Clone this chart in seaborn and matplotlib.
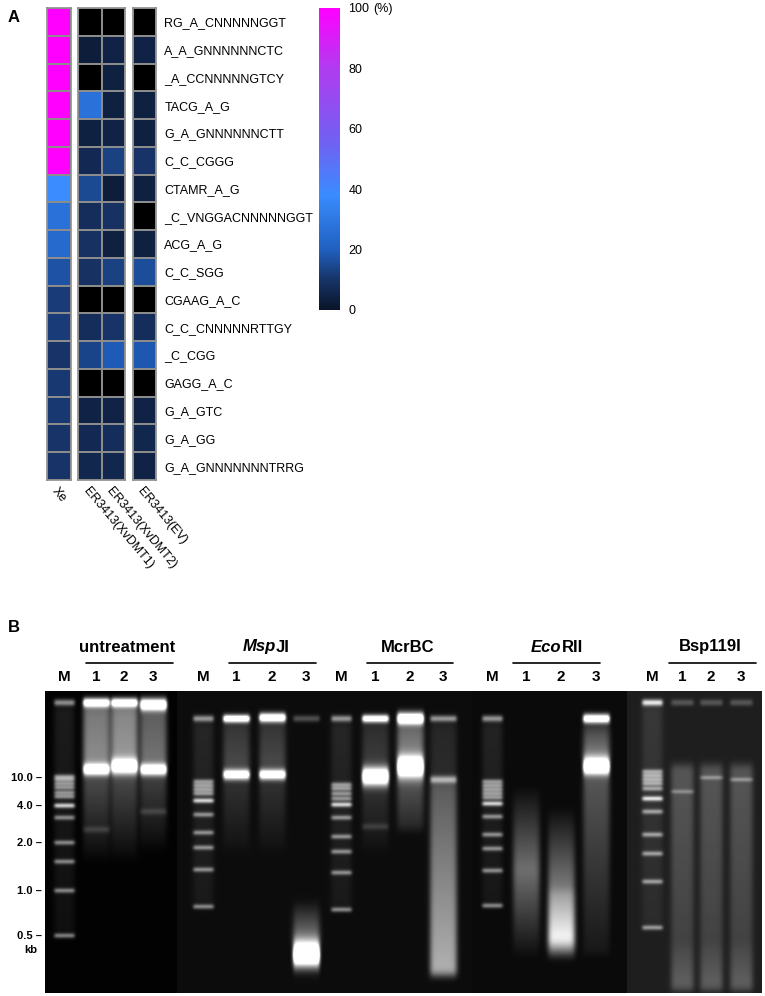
import numpy as np
import pandas as pd
import matplotlib
matplotlib.use('Agg')
import matplotlib.pyplot as plt
import seaborn as sns
from matplotlib.colors import LinearSegmentedColormap

sns.set_style('white')
plt.rcParams['font.family'] = ['Liberation Sans', 'DejaVu Sans']
plt.rcParams['text.color'] = 'black'
plt.rcParams['xtick.color'] = 'black'
plt.rcParams['ytick.color'] = 'black'

W, H = 765, 996

# ============================================================
# Panel A data (% methylated motifs, NaN = not detected)
# ============================================================
motifs = ['RG_A_CNNNNNGGT', 'A_A_GNNNNNNCTC', '_A_CCNNNNNGTCY', 'TACG_A_G',
          'G_A_GNNNNNNCTT', 'C_C_CGGG', 'CTAMR_A_G', '_C_VNGGACNNNNNGGT',
          'ACG_A_G', 'C_C_SGG', 'CGAAG_A_C', 'C_C_CNNNNNRTTGY', '_C_CGG',
          'GAGG_A_C', 'G_A_GTC', 'G_A_GG', 'G_A_GNNNNNNNTRRG']
xe = [100, 100, 100, 100, 100, 100, 38, 27, 24, 17, 12, 12, 10, 11, 11, 10, 10]
dmt1 = [np.nan, 3, np.nan, 27, 4, 7, 15, 8, 9, 9, np.nan, 8, 14, np.nan, 5, 7, 6]
dmt2 = [np.nan, 5, 4, 4, 5, 13, 3, 9, 4, 13, np.nan, 10, 19, np.nan, 5, 8, 6]
ev = [np.nan, 5, np.nan, 4, 4, 10, 4, np.nan, 4, 16, np.nan, 8, 18, np.nan, 5, 6, 5]
cbar_ticks = [0, 20, 40, 60, 80, 100]

# ============================================================
# Panel B data (gel, positions in pixels of the picture)
# ============================================================
groups = ['untreatment', 'MspJI', 'McrBC', 'EcoRII', 'Bsp119I']
group_italic = ['', 'Msp', '', 'Eco', '']
group_x = [127, 266, 408, 557, 710]
group_line = [(86, 173), (229, 316), (367, 453), (513, 600), (669, 756)]
lane_names = ['M', '1', '2', '3'] * 5
lane_x = [64, 96, 124, 153, 203, 236, 272, 306, 341, 375, 410, 443,
          492, 526, 561, 596, 652, 682, 711, 741]
gel_edges = [45, 177, 472, 627, 762]
gel_bg = [0.01, 0.05, 0.04, 0.12]
size_kb = ['10.0', '4.0', '2.0', '1.0', '0.5']
size_y = [778, 806, 843, 891, 936]

ladder_lanes = [0, 4, 8, 12, 16]
ladder_wells = [703, 719, 719, 719, 703]
ladder_bands = [
    [777, 780, 784, 788, 793, 797, 806, 818, 843, 862, 891, 936],
    [782, 786, 790, 794, 801, 815, 833, 848, 870, 907],
    [785, 789, 794, 799, 805, 818, 837, 852, 873, 910],
    [782, 786, 790, 794, 798, 804, 817, 835, 849, 871, 906],
    [772, 776, 780, 784, 789, 799, 812, 835, 854, 882, 928],
]
ladder_bright = [806, 801, 805, 804, 799]

# (lane, y, intensity, sigma)
sample_bands = [
    (1, 703, 1.4, 3), (1, 770, 1.4, 4), (1, 830, 0.15, 2),
    (2, 703, 1.4, 3), (2, 767, 1.5, 5),
    (3, 705, 1.6, 4), (3, 770, 1.4, 4), (3, 812, 0.15, 2),
    (5, 719, 1.4, 2.5), (5, 775, 1.3, 3.5),
    (6, 718, 1.4, 3), (6, 775, 1.3, 3.5),
    (7, 719, 0.3, 2), (7, 955, 1.8, 8),
    (9, 719, 1.3, 2.5), (9, 777, 1.6, 6), (9, 827, 0.15, 2),
    (10, 719, 1.6, 4), (10, 768, 1.7, 7),
    (11, 719, 0.6, 2), (11, 780, 0.6, 2.5),
    (15, 719, 1.4, 3), (15, 767, 1.6, 6),
    (16, 703, 0.3, 2),
    (17, 703, 0.25, 2), (17, 792, 0.35, 1),
    (18, 703, 0.25, 2), (18, 778, 0.4, 1),
    (19, 703, 0.25, 2), (19, 780, 0.4, 1),
]
# (lane, y0, y1, i0, i1)
sample_smears = [
    (1, 706, 766, 0.45, 0.55), (1, 775, 860, 0.3, 0.02),
    (2, 706, 762, 0.5, 0.6), (2, 772, 860, 0.3, 0.02),
    (3, 710, 765, 0.35, 0.45), (3, 775, 850, 0.25, 0.02),
    (5, 722, 770, 0.15, 0.25), (5, 780, 850, 0.15, 0.02),
    (6, 722, 770, 0.15, 0.25), (6, 780, 850, 0.15, 0.02),
    (7, 900, 945, 0.0, 0.5),
    (9, 722, 770, 0.12, 0.2), (9, 785, 850, 0.15, 0.02),
    (10, 725, 762, 0.35, 0.5), (10, 778, 830, 0.3, 0.1),
    (11, 722, 778, 0.1, 0.12), (11, 782, 975, 0.3, 0.65),
    (13, 790, 870, 0.02, 0.4), (13, 870, 955, 0.4, 0.02),
    (14, 810, 890, 0.02, 0.45), (14, 890, 940, 0.55, 0.95), (14, 940, 958, 0.95, 0.05),
    (15, 725, 760, 0.2, 0.5), (15, 778, 955, 0.3, 0.05),
    (17, 765, 990, 0.22, 0.12), (17, 945, 990, 0.02, 0.15),
    (18, 765, 990, 0.22, 0.12), (18, 945, 990, 0.02, 0.15),
    (19, 765, 990, 0.22, 0.12), (19, 945, 990, 0.02, 0.15),
]


def fx(x):
    return x / W


def fy(y):
    return 1 - y / H


def add_axes_px(x0, y0, x1, y1):
    return fig.add_axes([fx(x0), fy(y1), (x1 - x0) / W, (y1 - y0) / H])


fig = plt.figure(figsize=(W / 100, H / 100), dpi=100)

# ============================================================
# A. heatmap
# ============================================================
cmap = LinearSegmentedColormap.from_list('meth', [
    (0.0, '#0a1428'), (0.1, '#173468'), (0.2, '#2060c0'), (0.38, '#3a8cff'),
    (0.55, '#6e62f2'), (0.8, '#b03cf0'), (1.0, '#ff00ff')])
cmap.set_under('black')

df = pd.DataFrame({'Xe': xe, 'ER3413(XvDMT1)': dmt1,
                   'ER3413(XvDMT2)': dmt2, 'ER3413(EV)': ev}, index=motifs)
plot_df = df.fillna(-1)

col_sets = [(['Xe'], 47, 71), (['ER3413(XvDMT1)', 'ER3413(XvDMT2)'], 78, 125),
            (['ER3413(EV)'], 133, 156)]
cax = add_axes_px(319, 8, 340, 310)
for i, (cols, x0, x1) in enumerate(col_sets):
    ax = add_axes_px(x0, 8, x1, 480)
    last = i == len(col_sets) - 1
    sns.heatmap(plot_df[cols], ax=ax, cmap=cmap, vmin=0, vmax=100,
                linewidths=1.2, linecolor='#8c8c8c',
                cbar=last, cbar_ax=cax if last else None,
                cbar_kws={'ticks': cbar_ticks} if last else None,
                yticklabels=last)
    for s in ax.spines.values():
        s.set_visible(True)
        s.set_color('#8c8c8c')
        s.set_linewidth(1.2)
    ax.set_xticklabels(cols, rotation=-50, ha='left', va='top',
                       rotation_mode='anchor', fontsize=9)
    ax.tick_params(axis='x', length=0, pad=4)
    ax.set_xlabel('')
    ax.set_ylabel('')
    if last:
        ax.yaxis.tick_right()
        ax.set_yticklabels(motifs, rotation=0, ha='left', fontsize=9)
        ax.tick_params(axis='y', length=0, pad=6)
        ax.collections[0].colorbar.outline.set_visible(False)
    else:
        ax.set_yticks([])

cax.tick_params(length=0, labelsize=9, pad=6)
fig.text(fx(373), fy(9), '(%)', fontsize=9, va='center')

fig.text(fx(8), fy(18), 'A', fontsize=12, fontweight='bold', va='center')
fig.text(fx(8), fy(628), 'B', fontsize=12, fontweight='bold', va='center')

# ============================================================
# B. gel picture built from band lists
# ============================================================
gx0, gx1, gy0, gy1 = gel_edges[0], gel_edges[-1], 691, 993
xs = np.arange(gx0, gx1) + 0.5
ys = np.arange(gy0, gy1) + 0.5
X, Y = np.meshgrid(xs, ys)
bands_img = np.zeros_like(X)
smear_img = np.zeros_like(X)
bg_img = np.zeros_like(X)
for (a, b), bg in zip(zip(gel_edges[:-1], gel_edges[1:]), gel_bg):
    bg_img[:, (xs >= a) & (xs < b)] = bg


def lane_mask(lane):
    half = 10 if lane in ladder_lanes else (11 if lane >= 17 else 13)
    return ((X > lane_x[lane] - half) & (X < lane_x[lane] + half)).astype(float)


def add_band(lane, y, inten, sig):
    bands_img[:] += lane_mask(lane) * inten * np.exp(-0.5 * ((Y - y) / sig) ** 2)


def add_smear(lane, y0, y1, i0, i1):
    t = np.clip((Y - y0) / (y1 - y0), 0, 1)
    inside = (Y >= y0) & (Y <= y1)
    smear_img[:] += lane_mask(lane) * inside * (i0 + (i1 - i0) * t)


for lane, well, bands, bright in zip(ladder_lanes, ladder_wells, ladder_bands, ladder_bright):
    add_band(lane, well, 0.6, 2)
    add_smear(lane, well + 3, bands[-1], 0.1, 0.05)
    for yb in bands:
        add_band(lane, yb, 0.95 if yb == bright else 0.6, 1.3)
for b in sample_bands:
    add_band(*b)
for s in sample_smears:
    add_smear(*s)


def soften(a, sx, sy):
    kx = np.exp(-0.5 * (np.arange(-3 * sx, 3 * sx + 1) / sx) ** 2)
    ky = np.exp(-0.5 * (np.arange(-3 * sy, 3 * sy + 1) / sy) ** 2)
    a = np.apply_along_axis(lambda r: np.convolve(r, kx / kx.sum(), mode='same'), 1, a)
    return np.apply_along_axis(lambda c: np.convolve(c, ky / ky.sum(), mode='same'), 0, a)


img = bg_img + soften(bands_img, 1.5, 1.2) + soften(smear_img, 2.5, 4)
img = np.clip(img, 0, 1)

gax = add_axes_px(gx0, gy0, gx1, gy1)
gax.imshow(img, cmap='gray', vmin=0, vmax=1, extent=(gx0, gx1, gy1, gy0),
           aspect='auto', interpolation='bilinear')
gax.set_xlim(gx0, gx1)
gax.set_ylim(gy1, gy0)
gax.axis('off')

# size markers
for lab, y in zip(size_kb, size_y):
    fig.text(fx(42), fy(y), lab + ' \u2013', fontsize=8, fontweight='bold',
             ha='right', va='center')
fig.text(fx(31), fy(950), 'kb', fontsize=8, fontweight='bold', ha='center', va='center')

# lane labels
for name, x in zip(lane_names, lane_x):
    fig.text(fx(x), fy(677), name, fontsize=11, fontweight='bold', ha='center', va='center')

# group titles
fig.canvas.draw()
rend = fig.canvas.get_renderer()
for name, ital, gxc, (l0, l1) in zip(groups, group_italic, group_x, group_line):
    fig.add_artist(plt.Line2D([fx(l0), fx(l1)], [fy(663), fy(663)], color='black', lw=1.2))
    if not ital:
        fig.text(fx(gxc), fy(647), name, fontsize=12, fontweight='bold', ha='center', va='center')
        continue
    rest = name[len(ital):]
    t1 = fig.text(0, 0, ital, fontsize=12, fontweight='bold', style='italic')
    t2 = fig.text(0, 0, rest, fontsize=12, fontweight='bold')
    w1 = t1.get_window_extent(rend).width
    w2 = t2.get_window_extent(rend).width
    start = gxc - (w1 + w2) / 2
    t1.set_position((fx(start), fy(647)))
    t1.set_va('center')
    t2.set_position((fx(start + w1), fy(647)))
    t2.set_va('center')

fig.savefig('out.png', dpi=100)
